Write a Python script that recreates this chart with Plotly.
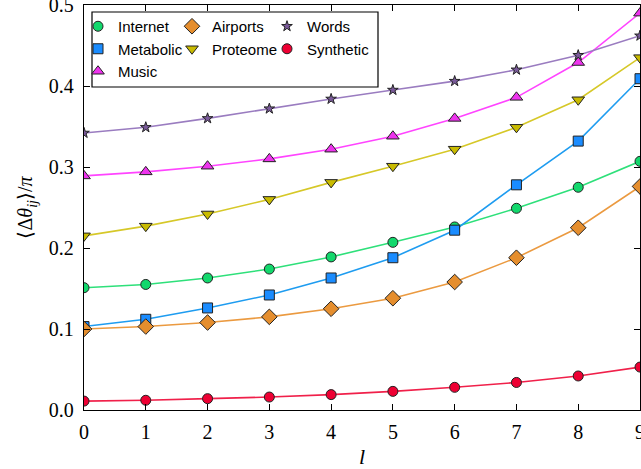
import plotly.graph_objects as go

l_values = [0, 1, 2, 3, 4, 5, 6, 7, 8, 9]

internet = [0.151, 0.155, 0.163, 0.174, 0.189, 0.207, 0.226, 0.249, 0.275, 0.307]
metabolic = [0.103, 0.112, 0.126, 0.142, 0.163, 0.188, 0.222, 0.278, 0.332, 0.409]
music = [0.289, 0.294, 0.301, 0.310, 0.322, 0.338, 0.360, 0.386, 0.429, 0.490]
airports = [0.100, 0.103, 0.108, 0.115, 0.125, 0.138, 0.158, 0.188, 0.225, 0.276]
proteome = [0.215, 0.227, 0.242, 0.260, 0.281, 0.301, 0.322, 0.349, 0.383, 0.435]
words = [0.342, 0.349, 0.360, 0.372, 0.384, 0.395, 0.406, 0.420, 0.438, 0.462]
synthetic = [0.011, 0.012, 0.014, 0.016, 0.019, 0.023, 0.028, 0.034, 0.042, 0.053]

x_ticks = [0, 1, 2, 3, 4, 5, 6, 7, 8, 9]
y_ticks = [0.0, 0.1, 0.2, 0.3, 0.4, 0.5]
y_tick_labels = ["0.0", "0.1", "0.2", "0.3", "0.4", "0.5"]

# name, values, marker symbol, fill, line colour, marker size, legend id
series = [
    ("Internet", internet, "circle", "#12d86c", "#2ee07a", 10, "legend"),
    ("Metabolic", metabolic, "square", "#1a8cff", "#1e9cf0", 10, "legend"),
    ("Music", music, "triangle-up", "#ee33ee", "#ff44ff", 11, "legend"),
    ("Airports", airports, "diamond", "#e58e2e", "#eb9a40", 12, "legend2"),
    ("Proteome", proteome, "triangle-down", "#c9bb00", "#d6c828", 11, "legend2"),
    ("Words", words, "star", "#7a5a9a", "#9a7cc0", 8, "legend3"),
    ("Synthetic", synthetic, "circle", "#ee0033", "#f0204a", 10, "legend3"),
]

fig = go.Figure()
# lines first (no legend entry)
for name, vals, sym, fill, lc, ms, lg in series:
    fig.add_trace(go.Scatter(
        x=l_values, y=vals, name=name, mode="lines",
        line=dict(color=lc, width=1.6), showlegend=False, hoverinfo="skip",
    ))
# markers (legend entries show markers only)
for name, vals, sym, fill, lc, ms, lg in series:
    fig.add_trace(go.Scatter(
        x=l_values, y=vals, name=name, mode="markers",
        marker=dict(symbol=sym, size=ms, color=fill,
                    line=dict(color="#222222", width=1)),
        legend=lg,
    ))

W, H = 641, 469
ml, mr, mt, mb = 84, 1, 5, 59
pw = W - ml - mr
ph = H - mt - mb


def px_x(p):
    return (p - ml) / pw


def px_y(p):
    return (H - mb - p) / ph


legend_font = dict(family="Liberation Sans, Arial, sans-serif", size=15, color="black")
leg_common = dict(orientation="v", bgcolor="rgba(0,0,0,0)", borderwidth=0,
                  font=legend_font, xanchor="left", yanchor="top",
                  tracegroupgap=0, itemclick=False, itemsizing="trace")

fig.update_layout(
    width=W, height=H,
    margin=dict(l=ml, r=mr, t=mt, b=mb, autoexpand=False),
    paper_bgcolor="white", plot_bgcolor="white",
    showlegend=True,
    legend=dict(x=px_x(78), y=px_y(10), **leg_common),
    legend2=dict(x=px_x(172), y=px_y(10), **leg_common),
    legend3=dict(x=px_x(267), y=px_y(10), **leg_common),
    font=dict(family="Liberation Serif, Times New Roman, serif", size=20, color="black"),
    shapes=[dict(type="rect", xref="paper", yref="paper",
                 x0=px_x(92), x1=px_x(378), y0=px_y(87), y1=px_y(12),
                 line=dict(color="black", width=1.2), fillcolor="white",
                 layer="above")],
)

fig.update_xaxes(
    range=[0, 9], tickmode="array", tickvals=x_ticks,
    ticks="inside", ticklen=6, tickwidth=1, tickcolor="black",
    showline=True, linecolor="black", linewidth=1.3, mirror="ticks",
    showgrid=False, zeroline=False, ticklabelstandoff=4,
    ticklabeloverflow="allow",
    tickfont=dict(family="Liberation Serif, serif", size=20),
    title=dict(text="<i>l</i>", font=dict(family="Liberation Serif, serif", size=22), standoff=8),
)
fig.update_yaxes(
    range=[0, 0.5], tickmode="array", tickvals=y_ticks, ticktext=y_tick_labels,
    ticks="inside", ticklen=6, tickwidth=1, tickcolor="black",
    showline=True, linecolor="black", linewidth=1.3, mirror="ticks",
    showgrid=False, zeroline=False, ticklabelstandoff=5,
    ticklabeloverflow="allow",
    tickfont=dict(family="Liberation Serif, serif", size=20),
    title=dict(text="⟨Δ<i>θ</i><sub><i>ij</i></sub>⟩/<i>π</i>",
               font=dict(family="Liberation Serif, serif", size=20), standoff=10),
)

fig.write_html("out.html", config={"displayModeBar": False},
               post_script="document.body.style.margin='0px';")
